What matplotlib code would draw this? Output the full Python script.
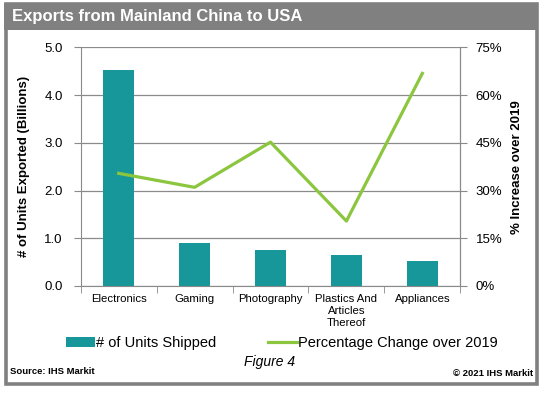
import matplotlib
matplotlib.use("Agg")
import matplotlib.pyplot as plt
from matplotlib.patches import Rectangle
from matplotlib.lines import Line2D
from matplotlib.ticker import FuncFormatter

plt.rcParams['font.family'] = ['Liberation Sans', 'DejaVu Sans']

# data
categories = ['Electronics', 'Gaming', 'Photography', 'Plastics And\nArticles\nThereof', 'Appliances']
units_billions = [4.52, 0.90, 0.75, 0.65, 0.53]
pct_change = [35.4, 31.0, 45.2, 20.4, 66.8]

teal = '#17979a'
green = '#8cc63f'
grid_gray = '#8a8a8a'
frame_gray = '#808080'

fig = plt.figure(figsize=(5.4, 3.95), dpi=100)
W, H = 540.0, 395.0

# outer frame and title bar
fig.patches.append(Rectangle((5.5 / W, 1 - 384 / H), 531 / W, 380 / H, transform=fig.transFigure,
                             fill=False, edgecolor=frame_gray, linewidth=2.6))
fig.patches.append(Rectangle((4 / W, 1 - 30 / H), 534 / W, 27 / H, transform=fig.transFigure,
                             facecolor=frame_gray, edgecolor='none'))
fig.text(12 / W, 1 - 17 / H, 'Exports from Mainland China to USA', color='white',
         fontsize=12, fontweight='bold', va='center', ha='left')

ax = fig.add_axes([80.7 / W, 1 - 286 / H, 379.6 / W, 238.7 / H])
x = range(len(categories))
ax.bar(x, units_billions, width=0.41, color=teal, zorder=2)
ax.set_ylim(0, 5)
ax.set_xlim(-0.5, len(categories) - 0.5)
ax.set_yticks([0, 1, 2, 3, 4, 5])
ax.yaxis.set_major_formatter(FuncFormatter(lambda v, p: f'{v:.1f}'))
ax.set_xticks(list(x))
ax.set_xticklabels(categories, fontsize=8.2, linespacing=1.2)
ax.set_xticks([i - 0.5 for i in range(len(categories) + 1)], minor=True)
ax.tick_params(axis='x', which='major', length=0, pad=6)
ax.tick_params(axis='x', which='minor', length=5, color=grid_gray, direction='out')
ax.tick_params(axis='y', labelsize=9.5, length=5, color=grid_gray, pad=8)
ax.grid(axis='y', color=grid_gray, linewidth=0.9, zorder=0)
ax.spines['top'].set_visible(False)
for s in ['left', 'right', 'bottom']:
    ax.spines[s].set_color(grid_gray)
ax.set_ylabel('# of Units Exported (Billions)', fontsize=9.5, fontweight='bold', labelpad=10)

ax2 = ax.twinx()
ax2.plot(list(x), pct_change, color=green, linewidth=2.3, zorder=3)
ax2.set_ylim(0, 75)
ax2.set_yticks([0, 15, 30, 45, 60, 75])
ax2.yaxis.set_major_formatter(FuncFormatter(lambda v, p: f'{v:.0f}%'))
ax2.tick_params(axis='y', labelsize=9.5, length=5, color=grid_gray, pad=6)
for s in ['top', 'left', 'bottom']:
    ax2.spines[s].set_visible(False)
ax2.spines['right'].set_color(grid_gray)
ax2.set_ylabel('% Increase over 2019', fontsize=9.5, fontweight='bold', labelpad=6)

handles = [Rectangle((0, 0), 1, 1, facecolor=teal),
           Line2D([0], [0], color=green, linewidth=2.3)]
fig.legend(handles, ['# of Units Shipped', 'Percentage Change over 2019'],
           loc='center', bbox_to_anchor=(282 / W, 1 - 343 / H), ncol=2, frameon=False,
           fontsize=10.5, handlelength=2.0, handleheight=0.7, handletextpad=0.1,
           columnspacing=3.5)

fig.text(270 / W, 1 - 362 / H, 'Figure 4', fontsize=10, style='italic', ha='center', va='center')
fig.text(10 / W, 1 - 371 / H, 'Source: IHS Markit', fontsize=6.8, fontweight='bold', va='center')
fig.text(533 / W, 1 - 373 / H, '\u00a9 2021 IHS Markit', fontsize=6.8, fontweight='bold',
         ha='right', va='center')

fig.savefig('out.png', dpi=100)
